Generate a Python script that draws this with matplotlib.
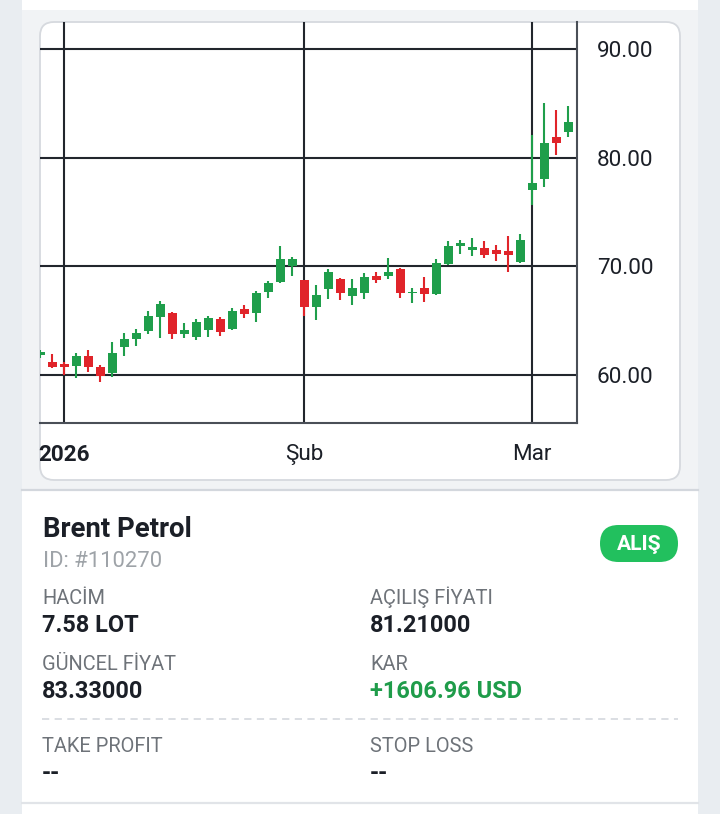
import matplotlib
matplotlib.use("Agg")
import matplotlib.pyplot as plt
from matplotlib.patches import FancyBboxPatch, Rectangle
from matplotlib.lines import Line2D

plt.rcParams['font.family'] = ['Roboto', 'DejaVu Sans']

# ---------------- data ----------------
opens = [61.80, 61.22, 61.00, 60.83, 61.75, 60.74, 60.18, 62.58, 63.31, 64.05,
         65.34, 65.70, 63.77, 63.50, 64.14, 65.15, 64.23, 66.07, 65.70, 67.64,
         68.56, 70.04, 68.74, 66.26, 67.91, 68.83, 67.27, 67.54, 69.11, 69.11,
         69.75, 67.54, 68.00, 67.45, 70.22, 71.90, 71.50, 71.69, 71.50, 71.41,
         70.40, 77.03, 78.00, 81.90, 82.40]
highs = [62.30, 61.93, 61.20, 62.02, 62.30, 60.92, 63.04, 63.86, 64.23, 65.89,
         66.81, 65.75, 64.78, 65.15, 65.43, 65.34, 66.16, 66.44, 67.73, 68.65,
         71.87, 70.86, 68.76, 68.28, 69.75, 68.93, 68.83, 69.38, 69.48, 70.77,
         69.85, 68.00, 69.02, 70.68, 72.33, 72.42, 72.60, 72.33, 71.96, 72.79,
         72.98, 82.08, 85.03, 84.40, 84.75]
lows = [61.60, 60.64, 60.00, 59.72, 60.28, 59.36, 59.82, 61.75, 62.67, 63.77,
        63.40, 63.31, 63.40, 63.22, 63.50, 63.59, 64.14, 65.24, 64.88, 67.08,
        68.46, 69.11, 65.43, 65.06, 66.99, 66.90, 66.44, 66.99, 68.46, 68.83,
        67.08, 66.62, 66.72, 67.36, 70.13, 71.13, 70.95, 70.77, 70.49, 69.48,
        70.30, 75.64, 77.30, 80.25, 81.90]
closes = [62.15, 60.76, 60.74, 61.75, 60.74, 59.91, 62.02, 63.31, 63.86, 65.43,
          66.53, 63.77, 64.14, 64.88, 65.24, 63.96, 65.89, 65.61, 67.54, 68.46,
          70.68, 70.68, 66.26, 67.36, 69.48, 67.54, 68.00, 69.02, 68.74, 69.48,
          67.54, 67.64, 67.45, 70.30, 71.87, 72.10, 71.78, 71.04, 71.13, 71.04,
          72.42, 77.66, 81.35, 81.35, 83.30]

x_tick_pos = [2, 22, 41]
x_tick_labels = ["2026", "Şub", "Mar"]
y_ticks = [60, 70, 80, 90]

title = "Brent Petrol"
trade_id = "ID: #110270"
side = "ALIŞ"
fields_left = [("HACİM", "7.58 LOT"), ("GÜNCEL FİYAT", "83.33000"), ("TAKE PROFIT", "--")]
fields_right = [("AÇILIŞ FİYATI", "81.21000"), ("KAR", "+1606.96 USD"), ("STOP LOSS", "--")]

# ---------------- figure ----------------
W, H = 720, 814
fig = plt.figure(figsize=(W / 100, H / 100), dpi=100)
fig.patch.set_facecolor("#e9edf1")

bg = fig.add_axes([0, 0, 1, 1])
bg.set_xlim(0, W)
bg.set_ylim(H, 0)
bg.axis("off")
bg.set_zorder(0)

# panels
bg.add_patch(Rectangle((22, 0), 676, H, facecolor="white", edgecolor="none"))
bg.add_patch(Rectangle((22, 10), 676, 480, facecolor="#f1f3f5", edgecolor="none"))
bg.add_line(Line2D([22, 698], [490, 490], color="#d3d7dd", lw=1.6))
bg.add_line(Line2D([22, 698], [803, 803], color="#e1e4e8", lw=1.6))
bg.add_patch(FancyBboxPatch((40, 22), 640, 458,
                            boxstyle="round,pad=0,rounding_size=14",
                            facecolor="white", edgecolor="#d6d9de", lw=1.3))

PX = 0.72  # px -> pt

# info texts
dark = "#1b1f27"
gray = "#6e7379"
bg.text(43, 537, title, fontsize=27.5 * PX, fontweight="bold", color=dark, va="baseline")
bg.text(43, 567, trade_id, fontsize=22 * PX, color="#9ea3a8", va="baseline")

bg.add_patch(FancyBboxPatch((600, 525), 78, 37,
                            boxstyle="round,pad=0,rounding_size=18.5",
                            facecolor="#22c05e", edgecolor="none"))
bg.text(639, 544, side, fontsize=21 * PX, fontweight="bold", color="white",
        ha="center", va="center")

row_base = [604, 670, 752]
for i, (lab, val) in enumerate(fields_left):
    bg.text(42, row_base[i], lab, fontsize=20 * PX, color=gray, va="baseline")
    bg.text(42, row_base[i] + 28, val, fontsize=23.5 * PX, fontweight="bold",
            color=dark, va="baseline")
for i, (lab, val) in enumerate(fields_right):
    bg.text(370, row_base[i], lab, fontsize=20 * PX, color=gray, va="baseline")
    col = "#1f9c4a" if val.startswith("+") else dark
    bg.text(370, row_base[i] + 28, val, fontsize=23.5 * PX, fontweight="bold",
            color=col, va="baseline")

bg.add_line(Line2D([42, 678], [719, 719], color="#d8dbe0", lw=1.3,
                   linestyle=(0, (4, 3))))

# ---------------- chart ----------------
L, R, T, B = 40, 577, 22, 423
ax = fig.add_axes([L / W, 1 - B / H, (R - L) / W, (B - T) / H])
ax.set_zorder(1)
ax.patch.set_alpha(0)

green = "#1f9e4b"
red = "#e0242a"
n = len(opens)
xs = list(range(n))
cols = [green if c >= o else red for o, c in zip(opens, closes)]
ax.vlines(xs, lows, highs, colors=cols, lw=1.5, zorder=3)
bottoms = [min(o, c) for o, c in zip(opens, closes)]
heights = [max(abs(c - o), 0.12) for o, c in zip(opens, closes)]
ax.bar(xs, heights, bottom=bottoms, width=0.75, color=cols, zorder=4)

ax.set_xlim(0, 44.75)
ax.set_ylim(55.58, 92.48)

ax.set_xticks(x_tick_pos)
ax.set_xticklabels(x_tick_labels)
ax.set_yticks(y_ticks)
ax.set_yticklabels([f"{v:.2f}" for v in y_ticks])
ax.yaxis.tick_right()
ax.tick_params(axis="y", length=0, pad=20 * PX, labelsize=22.5 * PX, labelcolor="#1b1f27")
ax.tick_params(axis="x", length=0, pad=21 * PX, labelsize=22.5 * PX, labelcolor="#1b1f27")
for lbl in ax.get_xticklabels():
    if lbl.get_text() == "2026":
        lbl.set_fontweight("bold")

ax.grid(True, color="#22262d", lw=1.5)
ax.set_axisbelow(True)
for s in ["left", "top"]:
    ax.spines[s].set_visible(False)
for s in ["right", "bottom"]:
    ax.spines[s].set_color("#4a4f57")
    ax.spines[s].set_linewidth(1.5)

fig.savefig("out.png", dpi=100, facecolor=fig.get_facecolor())
